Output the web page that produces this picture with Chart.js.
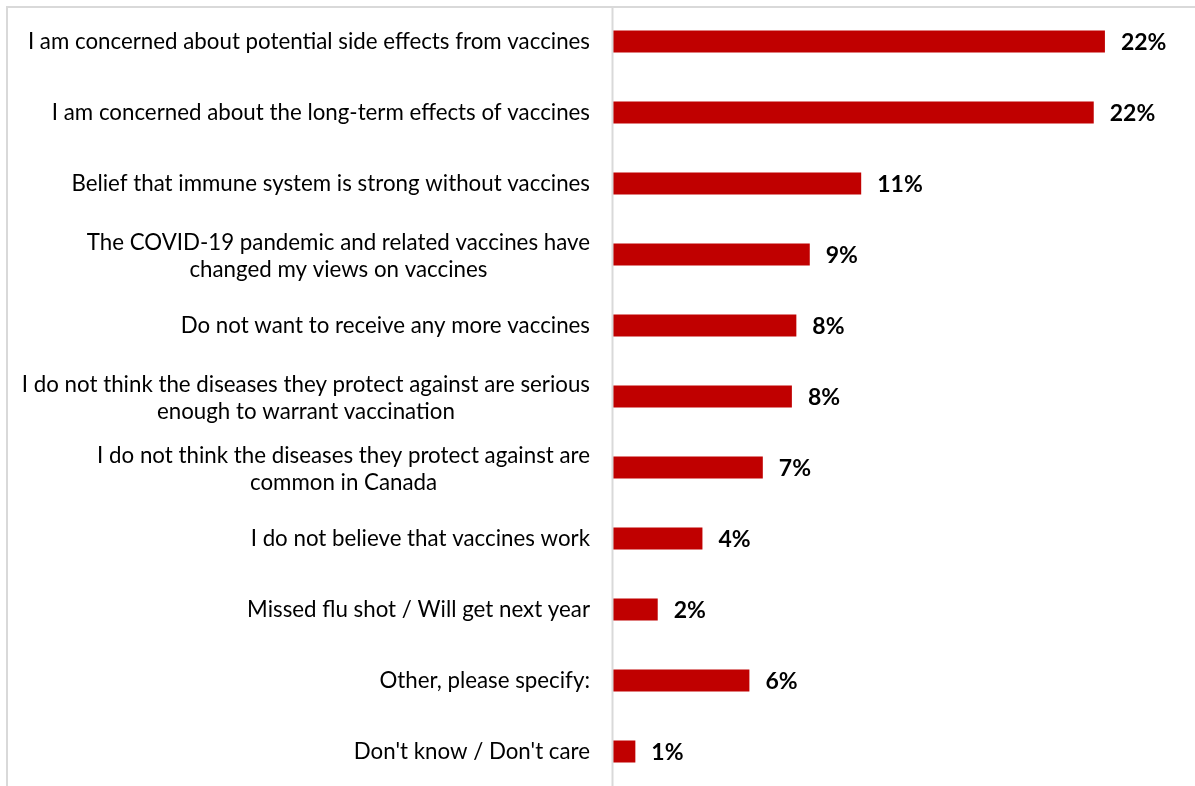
<!DOCTYPE html>
<html>
<head>
<meta charset="utf-8">
<script src="https://cdn.jsdelivr.net/npm/chart.js@4"></script>
<style>
  html, body { margin: 0; padding: 0; background: #fff; overflow: hidden; }
  #wrap { position: relative; width: 1195px; height: 787px; }
</style>
</head>
<body>
<div id="wrap"><canvas id="reasonsChart"></canvas></div>
<script>
// Reasons for not getting vaccinated (share of respondents, %)
const reasons = [
    ['I am concerned about potential side effects from vaccines'],
    ['I am concerned about the long-term effects of vaccines'],
    ['Belief that immune system is strong without vaccines'],
    ['The COVID-19 pandemic and related vaccines have', 'changed my views on vaccines'],
    ['Do not want to receive any more vaccines'],
    ['I do not think the diseases they protect against are serious', 'enough to warrant vaccination'],
    ['I do not think the diseases they protect against are', 'common in Canada'],
    ['I do not believe that vaccines work'],
    ['Missed flu shot / Will get next year'],
    ['Other, please specify:'],
    ["Don't know / Don't care"]
];
const shares = [22.0, 21.5, 11.1, 8.8, 8.2, 8.0, 6.7, 4.0, 2.0, 6.1, 1.0];

const barColor = '#C00000';
const frameColor = '#d9d9d9';
const labelFont = '22.3px Lato';
const valueFont = 'bold 23px Lato';

// Category labels: right-aligned block, lines centred within the block
const categoryLabels = {
    id: 'categoryLabels',
    afterDraw(chart) {
        const ctx = chart.ctx;
        const yScale = chart.scales.y;
        const right = chart.chartArea.left - 23;
        const lineH = 27;
        ctx.save();
        ctx.font = labelFont;
        ctx.fillStyle = '#000';
        ctx.textAlign = 'center';
        ctx.textBaseline = 'middle';
        reasons.forEach((lines, i) => {
            const y = yScale.getPixelForValue(i);
            const w = Math.max(...lines.map(l => ctx.measureText(l).width));
            const cx = right - w / 2;
            const y0 = y - (lines.length - 1) * (lineH / 2 - 1.5);
            lines.forEach((l, j) => ctx.fillText(l, cx, y0 + j * lineH));
        });
        ctx.restore();
    }
};

// Value labels after each bar plus the outer frame and axis line
const valueLabels = {
    id: 'valueLabels',
    afterDatasetsDraw(chart) {
        const ctx = chart.ctx;
        const meta = chart.getDatasetMeta(0);
        ctx.save();
        ctx.font = valueFont;
        ctx.fillStyle = '#000';
        ctx.textAlign = 'left';
        ctx.textBaseline = 'middle';
        meta.data.forEach((bar, i) => {
            ctx.fillText(Math.round(shares[i]) + '%', bar.x + 16, bar.y + 1);
        });
        // frame
        ctx.strokeStyle = frameColor;
        ctx.lineWidth = 2;
        ctx.beginPath();
        ctx.moveTo(7, chart.height);
        ctx.lineTo(7, 7);
        ctx.lineTo(chart.width, 7);
        ctx.stroke();
        const x0 = chart.scales.x.getPixelForValue(0);
        ctx.beginPath();
        ctx.moveTo(x0 - 0.5, 7);
        ctx.lineTo(x0 - 0.5, chart.height);
        ctx.stroke();
        ctx.restore();
    }
};

new Chart(document.getElementById('reasonsChart'), {
    type: 'bar',
    data: {
        labels: reasons,
        datasets: [{
            data: shares,
            backgroundColor: barColor,
            borderWidth: 0,
            categoryPercentage: 1,
            barPercentage: 0.31
        }]
    },
    options: {
        indexAxis: 'y',
        responsive: true,
        maintainAspectRatio: false,
        animation: false,
        layout: { padding: { top: 6, right: 23, bottom: 0, left: 0 } },
        scales: {
            x: {
                display: false,
                min: 0,
                max: 25
            },
            y: {
                grid: { display: false },
                border: { display: false },
                ticks: { display: false },
                afterFit(scale) { scale.width = 613; }
            }
        },
        plugins: {
            legend: { display: false },
            tooltip: { enabled: false }
        }
    },
    plugins: [categoryLabels, valueLabels]
});
</script>
</body>
</html>
